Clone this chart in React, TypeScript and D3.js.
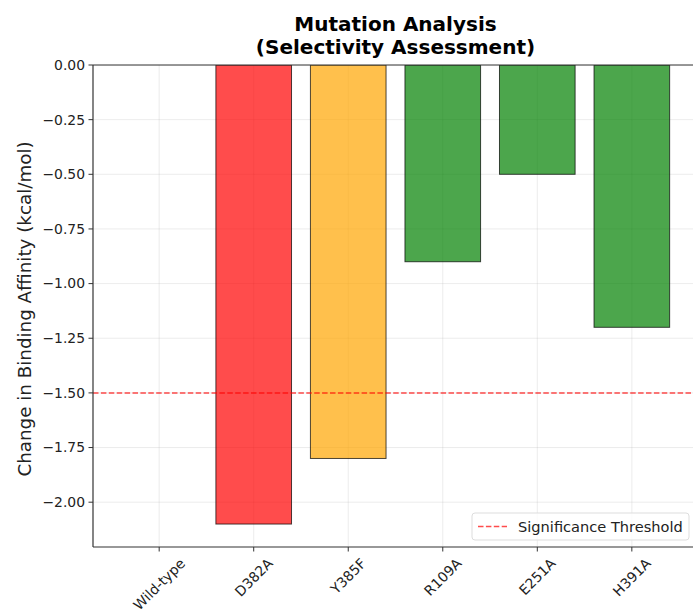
import React, { useEffect, useRef } from "react";
import * as d3 from "d3";

const categories = ["Wild-type", "D382A", "Y385F", "R109A", "E251A", "H391A"];
const values = [0, -2.1, -1.8, -0.9, -0.5, -1.2];
const barColors = ["#2ca02c", "#ff0000", "#ffa500", "#008000", "#008000", "#008000"];
const yTicks = [0, -0.25, -0.5, -0.75, -1.0, -1.25, -1.5, -1.75, -2.0];
const threshold = -1.5;
const titleLines = ["Mutation Analysis", "(Selectivity Assessment)"];
const yLabel = "Change in Binding Affinity (kcal/mol)";
const legendLabel = "Significance Threshold";

export default function App() {
  const ref = useRef<SVGSVGElement>(null);
  useEffect(() => {
    const svg = d3.select(ref.current);
    svg.selectAll("*").remove();
    const left = 93, right = 698, top = 65, bottom = 547;
    const font = "DejaVu Sans, sans-serif";
    const tickFs = 13.9;
    const x = d3.scaleLinear().domain([-0.7, categories.length - 1 + 0.7]).range([left, right]);
    const y = d3.scaleLinear().domain([0, -2.205]).range([top, bottom]);
    const g = svg.append("g");
    const clip = svg.append("defs").append("clipPath").attr("id", "clipA");
    clip.append("rect").attr("x", left).attr("y", top).attr("width", right - left).attr("height", bottom - top);
    const plot = g.append("g").attr("clip-path", "url(#clipA)");
    // grid
    plot.selectAll(".vg").data(categories).enter().append("line")
      .attr("x1", (_, i) => x(i)).attr("x2", (_, i) => x(i))
      .attr("y1", top).attr("y2", bottom)
      .attr("stroke", "#b0b0b0").attr("stroke-opacity", 0.3).attr("stroke-width", 0.8);
    plot.selectAll(".hg").data(yTicks).enter().append("line")
      .attr("x1", left).attr("x2", right)
      .attr("y1", d => y(d)).attr("y2", d => y(d))
      .attr("stroke", "#b0b0b0").attr("stroke-opacity", 0.3).attr("stroke-width", 0.8);
    // bars
    const bw = 0.8;
    plot.selectAll(".bar").data(values).enter().append("rect")
      .attr("x", (_, i) => x(i - bw / 2))
      .attr("width", x(bw) - x(0))
      .attr("y", d => Math.min(y(d), y(0)))
      .attr("height", d => Math.abs(y(d) - y(0)))
      .attr("fill", (_, i) => barColors[i]).attr("fill-opacity", 0.7)
      .attr("stroke", "#000").attr("stroke-opacity", 0.7).attr("stroke-width", 1);
    // threshold
    plot.append("line").attr("x1", left).attr("x2", right)
      .attr("y1", y(threshold)).attr("y2", y(threshold))
      .attr("stroke", "#ff0000").attr("stroke-opacity", 0.7).attr("stroke-width", 1.5)
      .attr("stroke-dasharray", "5.5,2.4");
    // spines
    const sp = g.append("g").attr("stroke", "#333").attr("stroke-width", 1.2);
    sp.append("line").attr("x1", left).attr("x2", left).attr("y1", top).attr("y2", bottom);
    sp.append("line").attr("x1", left).attr("x2", right).attr("y1", bottom).attr("y2", bottom);
    sp.append("line").attr("x1", left).attr("x2", right).attr("y1", top).attr("y2", top);
    sp.append("line").attr("x1", right).attr("x2", right).attr("y1", top).attr("y2", bottom);
    // y ticks
    const yt = g.append("g");
    yTicks.forEach(t => {
      yt.append("line").attr("x1", left - 4.5).attr("x2", left).attr("y1", y(t)).attr("y2", y(t)).attr("stroke", "#333");
      yt.append("text").attr("x", left - 8).attr("y", y(t)).attr("dy", "0.35em")
        .attr("text-anchor", "end").attr("font-family", font).attr("font-size", tickFs).attr("fill", "#222")
        .text(d3.format(".2f")(t).replace("-", "\u2212"));
    });
    // x ticks
    categories.forEach((c, i) => {
      g.append("line").attr("x1", x(i)).attr("x2", x(i)).attr("y1", bottom).attr("y2", bottom + 4.5).attr("stroke", "#333");
      const t = g.append("text")
        .attr("text-anchor", "middle").attr("dy", "0.35em").attr("font-family", font).attr("font-size", tickFs).attr("fill", "#222")
        .text(c);
      const w = (t.node() as SVGTextElement).getComputedTextLength();
      const h = tickFs * 1.1;
      const cy = bottom + 4.5 + 4 + (w + h) / Math.SQRT2 / 2;
      t.attr("transform", `translate(${x(i)},${cy}) rotate(-45)`);
    });
    // title
    titleLines.forEach((t, i) => {
      g.append("text").attr("x", (left + right) / 2).attr("y", 31 + i * 22.5)
        .attr("text-anchor", "middle").attr("font-family", font).attr("font-weight", "bold")
        .attr("font-size", 20).attr("fill", "#000").text(t);
    });
    // y label
    g.append("text").attr("transform", `translate(31,${(top + bottom) / 2 + 3}) rotate(-90)`)
      .attr("text-anchor", "middle").attr("font-family", font).attr("font-size", 18.3).attr("fill", "#222")
      .text(yLabel);
    // legend
    const lg = g.append("g");
    lg.append("rect").attr("x", 472).attr("y", 513).attr("width", 217).attr("height", 27).attr("rx", 3)
      .attr("fill", "#fff").attr("fill-opacity", 0.8).attr("stroke", "#ddd");
    lg.append("line").attr("x1", 478).attr("x2", 507).attr("y1", 526.5).attr("y2", 526.5)
      .attr("stroke", "#ff0000").attr("stroke-opacity", 0.7).attr("stroke-width", 1.5).attr("stroke-dasharray", "5.5,2.4");
    lg.append("text").attr("x", 518).attr("y", 526.5).attr("dy", "0.35em")
      .attr("font-family", font).attr("font-size", 14.6).attr("fill", "#222").text(legendLabel);
  }, []);
  return <svg ref={ref} width={693} height={610} style={{ position: "absolute", left: 0, top: 0 }} />;
}
